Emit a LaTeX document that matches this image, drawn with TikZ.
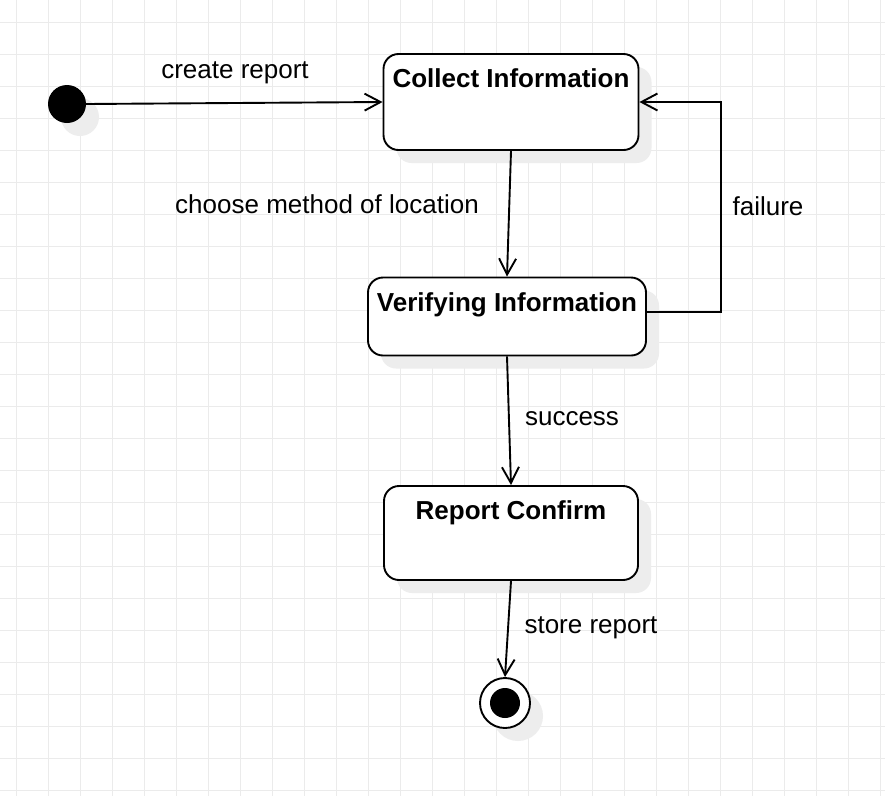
\documentclass[tikz,border=0pt]{standalone}
\usepackage{fontspec}
\setmainfont{Liberation Sans}
\usetikzlibrary{arrows.meta,shadows,calc,positioning}

\begin{document}
\begin{tikzpicture}
      [x = 1pt, y = -1pt,
      gridline/.style={draw = black!8, line width = 1pt},
      trans/.style={-{Straight Barb[length = 16pt, width = 17pt]}, line width = 1.9pt},
      stbox/.style= {
         draw,
         line width = 1.9pt,
         fill = white,
         rounded corners = 15pt,
         inner sep = 0pt,
         drop shadow = {shadow xshift = 13pt, shadow yshift = -13pt,
                        fill = black!7, opacity = 1}
      },
      title/.style= {
         anchor = base,
         inner sep = 0pt,
         font = \fontsize{26}{30}\selectfont\bfseries
      },
      lbl/.style= {
         anchor = base,
         inner sep = 0pt,
         font = \fontsize{26}{30}\selectfont
      },
      initdot/.style= {
         circle,
         fill = black,
         inner sep = 0pt,
         minimum size = 38pt,
         drop shadow = {shadow xshift = 13pt, shadow yshift = -13pt,
                        fill = black!7, opacity = 1}
      },
      finalring/.style= {
         draw,
         circle,
         line width = 1.9pt,
         fill = white,
         inner sep = 0pt,
         minimum size = 50pt,
         drop shadow = {shadow xshift = 13pt, shadow yshift = -13pt,
                        fill = black!7, opacity = 1}
      },
      finaldot/.style= {
         circle,
         fill = black,
         inner sep = 0pt,
         minimum size = 30pt
      }]

      % canvas and grid
      \fill[white] (0, 0) rectangle (885, 796);
      \useasboundingbox (0, 0) rectangle (885, 796);
      \foreach \gx in {0, ..., 27}
         \draw[gridline] (16.5 + 32 * \gx, 0) -- (16.5 + 32 * \gx, 796);
      \foreach \gy in {0, ..., 24}
         \draw[gridline] (0, 22 + 32 * \gy) -- (885, 22 + 32 * \gy);

      % states
      \node[initdot] (init) at (67, 104) {};
      \node[stbox, minimum width = 255pt, minimum height = 96pt] (collect) at (511, 102) {};
      \node[stbox, minimum width = 278pt, minimum height = 78pt] (verify) at (507, 316.5) {};
      \node[stbox, minimum width = 254pt, minimum height = 94pt] (confirm) at (511, 533) {};
      \node[finalring] (final) at (505, 703) {};
      \node[finaldot] (finalin) at (final.center) {};

      \node[title] (collectT) at ($(collect.north) + (0, 34)$) {Collect Information};
      \node[title] (verifyT) at ($(verify.north) + (0, 35)$) {Verifying Information};
      \node[title] (confirmT) at ($(confirm.north) + (0, 34)$) {Report Confirm};

      % transitions
      \draw[trans] (init.east) -- (collect.west);
      \draw[trans] (collect.south) -- (verify.north);
      \draw[trans] ([yshift = 4.5pt]verify.east) -- ++(74, 0) |- (collect.east);
      \draw[trans] (verify.south) -- (confirm.north);
      \draw[trans] (confirm.south) -- (final.north);

      \node[lbl] (createL) at (235, 78.5) {create report};
      \node[lbl] (chooseL) at (327, 213) {choose method of location};
      \node[lbl] (failL) at (768, 215) {failure};
      \node[lbl] (succL) at (572, 425) {success};
      \node[lbl] (storeL) at (591, 633.5) {store report};

   \end{tikzpicture}
\end{document}
